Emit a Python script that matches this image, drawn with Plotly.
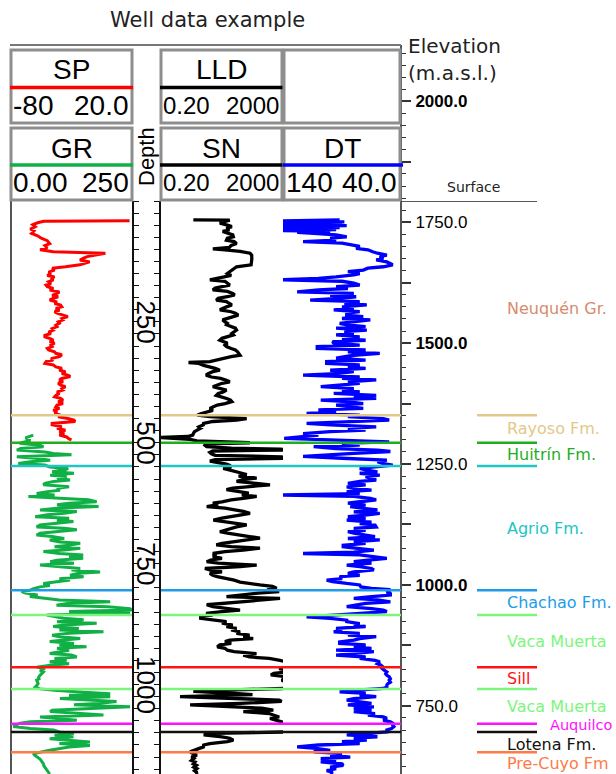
import math
import plotly.graph_objects as go

W, H = 616, 774
def fx(p): return p / W
def fy(p): return 1 - p / H

TITLE = "Well data example"
KB_ELEV = 1794.0   # elevation of depth 0 (m.a.s.l.)
TD = 1185.0        # deepest depth shown (m)

CURVE_NAMES = ["SP", "GR", "LLD", "SN", "DT"]
CURVE_MIN = [-80, 0, 0.2, 0.2, 140]
CURVE_MAX = [20, 250, 2000, 2000, 40]
CURVE_MIN_TXT = ["-80", "0.00", "0.20", "0.20", "140"]
CURVE_MAX_TXT = ["20.0", "250", "2000", "2000", "40.0"]
CURVE_COLORS = ["#ff0000", "#10b046", "#000000", "#000000", "#0000ff"]

DEPTH_LABELS = [250, 500, 750, 1000]
ELEV_TICKS = [750, 875, 1000, 1125, 1250, 1375, 1500, 1625, 1750, 1875, 2000]
ELEV_TICK_TEXT = ["750.0", "", "<b>1000.0</b>", "", "1250.0", "", "<b>1500.0</b>", "",
                  "1750.0", "", "<b>2000.0</b>"]

FORM_NAMES = ["Neuquén Gr.", "Rayoso Fm.", "Huitrín Fm.", "Agrio Fm.", "Chachao Fm.",
              "Vaca Muerta", "Sill", "Vaca Muerta", "Auquilco", "Lotena Fm.", "Pre-Cuyo Fm"]
FORM_TOPS = [0, 443, 500, 548, 805, 856, 964, 1009, 1081, 1098, 1140]
FORM_COLORS = ["#d68c6c", "#e3c888", "#1fae1f", "#22c4c4", "#1e9de6", "#7df57d",
               "#ff1414", "#7df57d", "#ff10ff", "#111111", "#ff7a45"]

SP_DEPTH = [41, 42, 45, 49, 53, 58, 62, 67, 72, 77,
            82, 88, 92, 97, 101, 105, 108, 112, 115, 118,
            122, 126, 129, 132, 136, 139, 143, 147, 150, 154,
            157, 160, 163, 167, 171, 174, 177, 181, 184, 188,
            191, 195, 198, 201, 205, 209, 212, 215, 219, 222,
            226, 229, 232, 236, 239, 243, 246, 250, 253, 257,
            260, 264, 267, 271, 274, 278, 281, 285, 288, 291,
            294, 298, 301, 305, 308, 312, 315, 318, 322, 326,
            329, 332, 336, 339, 343, 346, 350, 353, 357, 360,
            363, 367, 370, 374, 377, 381, 384, 388, 391, 395,
            398, 402, 405, 408, 412, 415, 419, 422, 426, 429,
            432, 436, 439, 443, 446, 450, 453, 456, 460, 463,
            467, 470, 474, 477, 481, 484, 488, 492, 494]
SP_VALUE = [18, -53, -58, -62, -60, -64, -61, -63, -58, -55,
            -50, -48, -52, -50, -56, -45, -2, -12, -17, -20,
            -23, -15, -20, -23, -35, -46, -44, -49, -47, -50,
            -44, -47, -45, -49, -47, -51, -50, -45, -48, -40,
            -42, -46, -41, -45, -48, -42, -44, -39, -38, -43,
            -40, -44, -42, -36, -33, -38, -37, -41, -40, -43,
            -42, -46, -45, -49, -47, -52, -52, -47, -45, -48,
            -44, -47, -46, -50, -49, -44, -43, -38, -40, -47,
            -45, -51, -52, -45, -43, -38, -40, -35, -38, -33,
            -31, -38, -40, -37, -41, -39, -35, -38, -37, -42,
            -40, -43, -44, -39, -37, -41, -37, -42, -43, -40,
            -45, -42, -44, -39, -41, -33, -28, -27, -46, -46,
            -38, -42, -35, -40, -36, -40, -34, -32, -30]

GR_DEPTH = [484, 490, 495, 501, 505, 508, 512, 515, 519, 522,
            525, 527, 529, 532, 536, 539, 543, 546, 550, 553,
            556, 560, 563, 567, 570, 573, 577, 580, 584, 587,
            591, 594, 598, 601, 605, 608, 611, 615, 618, 622,
            625, 628, 632, 635, 639, 642, 646, 649, 653, 656,
            660, 663, 667, 670, 674, 677, 680, 684, 687, 691,
            694, 698, 701, 705, 708, 712, 715, 718, 722, 725,
            729, 732, 736, 739, 743, 746, 749, 753, 756, 760,
            763, 767, 770, 774, 777, 781, 784, 788, 791, 795,
            798, 802, 805, 808, 811, 815, 818, 822, 825, 829,
            832, 836, 839, 843, 846, 849, 852, 856, 859, 863,
            866, 870, 873, 877, 880, 884, 887, 891, 894, 898,
            901, 905, 908, 911, 915, 918, 922, 925, 929, 932,
            936, 939, 943, 946, 950, 953, 957, 960, 964, 967,
            971, 974, 978, 981, 985, 988, 991, 995, 998, 1002,
            1005, 1009, 1012, 1016, 1019, 1022, 1025, 1029, 1032, 1035,
            1039, 1042, 1046, 1049, 1053, 1056, 1060, 1063, 1067, 1070,
            1074, 1077, 1080, 1084, 1087, 1091, 1094, 1098, 1101, 1105,
            1108, 1112, 1115, 1119, 1122, 1126, 1129, 1133, 1136, 1140,
            1143, 1147, 1150, 1154, 1157, 1161, 1164, 1168, 1171, 1175,
            1180, 1185]
GR_VALUE = [46, 30, 40, 18, 60, 67, 20, 12, 70, 88,
            125, 60, 12, 50, 81, 40, 15, 70, 80, 118,
            112, 85, 130, 81, 115, 95, 122, 88, 70, 67,
            120, 95, 101, 75, 53, 90, 36, 110, 160, 177,
            120, 95, 181, 100, 60, 136, 110, 75, 50, 120,
            95, 129, 80, 60, 53, 110, 136, 100, 60, 53,
            85, 110, 80, 101, 143, 120, 90, 143, 110, 67,
            100, 149, 120, 149, 95, 81, 130, 60, 100, 143,
            125, 184, 140, 122, 150, 100, 122, 85, 67, 80,
            60, 45, 39, 22, 30, 55, 39, 74, 100, 205,
            120, 94, 200, 246, 250, 120, 246, 74, 90, 108,
            150, 95, 177, 110, 87, 140, 100, 191, 120, 85,
            100, 143, 110, 80, 130, 100, 156, 95, 120, 100,
            80, 125, 136, 90, 115, 80, 120, 81, 53, 70,
            60, 67, 62, 60, 57, 58, 53, 55, 56, 53,
            50, 60, 90, 150, 205, 120, 205, 101, 150, 218,
            180, 130, 246, 160, 85, 81, 150, 191, 60, 90,
            136, 40, 19, 10, 5, 40, 88, 100, 130, 90,
            129, 80, 110, 163, 100, 163, 120, 101, 80, 60,
            46, 50, 55, 60, 62, 65, 67, 68, 70, 72,
            75, 80]

SN_DEPTH = [39, 39.5, 43, 46, 50, 53, 57, 60, 63, 67,
            70, 74, 77, 81, 84, 88, 92, 96, 99, 101,
            104, 108, 112, 120, 128, 132, 136, 140, 146, 150,
            154, 158, 163, 166, 170, 174, 177, 180, 184, 187,
            191, 194, 198, 201, 205, 208, 212, 215, 219, 222,
            225, 229, 232, 236, 239, 243, 246, 250, 253, 256,
            260, 263, 267, 270, 274, 277, 281, 284, 288, 291,
            294, 298, 301, 305, 308, 312, 315, 319, 322, 326,
            329, 332, 334, 336, 340, 343, 346, 350, 353, 357,
            360, 364, 367, 371, 374, 377, 381, 384, 388, 391,
            395, 398, 402, 405, 409, 412, 415, 419, 422, 426,
            429, 433, 436, 440, 443, 446, 450, 453, 456, 460,
            463, 467, 470, 474, 477, 481, 484, 487, 489, 493,
            496, 500, 502, 505, 508, 511, 513, 515, 517, 520,
            523, 526, 529, 532, 535, 538, 541, 544, 547, 550,
            553, 556, 559, 563, 566, 569, 573, 576, 580, 584,
            587, 590, 594, 597, 601, 604, 608, 611, 615, 618,
            622, 625, 628, 632, 635, 639, 642, 646, 649, 653,
            656, 660, 663, 667, 670, 674, 677, 680, 684, 687,
            691, 694, 697, 701, 704, 708, 711, 715, 718, 722,
            725, 729, 732, 735, 739, 742, 746, 749, 753, 756,
            760, 763, 767, 770, 774, 777, 781, 784, 788, 791,
            794, 797, 801, 804, 808, 811, 815, 818, 822, 825,
            829, 832, 835, 839, 842, 846, 849, 853, 856, 860,
            863, 867, 870, 873, 877, 880, 884, 887, 891, 894,
            898, 901, 905, 908, 911, 915, 918, 922, 925, 929,
            932, 936, 939, 943, 946, 950, 953, 956, 960, 963,
            967, 970, 974, 977, 980, 984, 987, 991, 994, 998,
            1001, 1004, 1008, 1011, 1014, 1018, 1021, 1025, 1028, 1032,
            1035, 1039, 1042, 1046, 1049, 1053, 1056, 1060, 1063, 1067,
            1070, 1074, 1077, 1080, 1084, 1087, 1091, 1094, 1098, 1101,
            1104, 1108, 1111, 1115, 1118, 1122, 1125, 1129, 1132, 1136,
            1139, 1143, 1146, 1150, 1153, 1157, 1160, 1164, 1167, 1171,
            1174, 1178, 1181, 1185]
SN_VALUE = [2.3, 36, 22, 17, 30, 42, 28, 35, 21, 33,
            45, 47, 30, 28, 50, 60, 40, 35, 10, 25,
            78, 166, 188, 190, 185, 180, 60, 50, 36, 30,
            40, 20, 8, 25, 30, 36, 20, 12, 10, 30,
            45, 52, 30, 15, 13, 28, 35, 42, 28, 20,
            17, 40, 55, 68, 45, 30, 21, 25, 30, 28,
            45, 55, 60, 50, 42, 47, 30, 20, 17, 22,
            30, 25, 28, 40, 55, 65, 70, 78, 40, 20,
            13, 8, 1.6, 3.5, 5, 9, 12, 17, 10, 7,
            6, 9, 18, 28, 36, 20, 12, 10, 18, 28,
            22, 15, 13, 20, 30, 38, 42, 25, 14, 10,
            8, 10, 6, 4, 3.1, 8, 129, 60, 10, 5,
            4.9, 3.5, 4, 3, 2.5, 2.3, 2.2, 1.5, 0.15, 1.8,
            3, 166, 6, 5.5, 6.3, 40, 1600, 2500, 10, 8,
            9, 12, 1800, 2500, 12, 8, 15, 28, 36, 40,
            22, 36, 60, 90, 129, 70, 274, 100, 60, 300,
            750, 200, 45, 28, 70, 150, 90, 274, 100, 40,
            20, 10, 15, 6.3, 25, 60, 100, 166, 80, 30,
            20, 10.4, 25, 80, 129, 60, 40, 25, 17, 30,
            100, 160, 352, 150, 60, 20, 13, 40, 352, 100,
            25, 10, 13, 10, 20, 9, 6.3, 15, 274, 80,
            5.5, 8, 20, 8, 10, 14, 30, 50, 78, 150,
            350, 900, 1240, 600, 1500, 300, 60, 28, 1600, 500,
            100, 25, 6.3, 10, 30, 78, 20, 6, 10, 4,
            4, 12, 28, 20, 45, 28, 60, 40, 78, 60,
            160, 100, 210, 36, 25, 40, 17, 14, 25, 30,
            50, 270, 100, 160, 700, 1600, 2500, 2500, 2500, 2500,
            1500, 2500, 2500, 1000, 800, 2500, 2500, 1800, 2500, 2500,
            2500, 2500, 2500, 50, 2.3, 40, 200, 0.84, 50, 1500,
            1800, 80, 1.8, 30, 400, 965, 100, 700, 1000, 1500,
            750, 1200, 1800, 2500, 2500, 2500, 2500, 2500, 2500, 10,
            5, 20, 36, 47, 30, 8, 5, 4.9, 3.8, 2.5,
            1.8, 2.3, 3, 2, 2.4, 2.0, 2.6, 2.3, 2.9, 2.4,
            3.0, 2.5, 2.9, 3.0]

DT_DEPTH = [39, 41, 43, 45, 47, 49, 51, 53, 55, 57,
            59, 61, 63, 65, 67, 70, 74, 77, 81, 84,
            87, 91, 94, 98, 101, 105, 108, 112, 115, 119,
            122, 126, 129, 132, 136, 139, 143, 146, 150, 153,
            157, 160, 163, 166, 170, 174, 177, 181, 184, 188,
            191, 195, 198, 201, 205, 208, 212, 215, 219, 222,
            225, 229, 232, 236, 239, 243, 246, 250, 253, 256,
            260, 263, 267, 270, 274, 277, 281, 284, 288, 291,
            294, 298, 301, 305, 308, 312, 315, 319, 322, 325,
            329, 332, 336, 339, 343, 346, 350, 353, 357, 360,
            364, 367, 370, 374, 377, 381, 384, 388, 391, 395,
            398, 402, 405, 408, 412, 415, 419, 422, 426, 429,
            432, 436, 439, 443, 446, 450, 453, 457, 460, 463,
            467, 470, 474, 477, 481, 484, 488, 491, 494, 498,
            501, 505, 508, 512, 515, 518, 522, 525, 528, 532,
            536, 539, 543, 546, 550, 553, 556, 560, 563, 567,
            570, 573, 577, 580, 584, 587, 591, 594, 598, 601,
            605, 608, 611, 615, 618, 622, 625, 629, 632, 636,
            639, 643, 646, 650, 653, 657, 660, 664, 667, 670,
            674, 677, 681, 684, 687, 691, 694, 698, 701, 705,
            708, 712, 715, 719, 722, 726, 729, 732, 736, 739,
            743, 746, 749, 753, 756, 760, 763, 767, 770, 774,
            777, 781, 784, 787, 791, 794, 798, 801, 804, 806,
            809, 812, 815, 818, 822, 825, 829, 832, 836, 839,
            843, 846, 849, 853, 856, 860, 863, 867, 870, 874,
            877, 880, 884, 887, 891, 894, 898, 901, 905, 908,
            912, 915, 918, 922, 925, 929, 932, 936, 939, 943,
            946, 950, 953, 957, 960, 964, 967, 971, 974, 978,
            981, 984, 988, 991, 995, 998, 1001, 1005, 1008, 1012,
            1015, 1018, 1022, 1025, 1029, 1032, 1036, 1039, 1042, 1046,
            1049, 1053, 1056, 1060, 1063, 1067, 1070, 1074, 1077, 1080,
            1084, 1087, 1091, 1094, 1098, 1101, 1104, 1108, 1111, 1115,
            1118, 1122, 1125, 1129, 1132, 1136, 1139, 1143, 1146, 1150,
            1153, 1157, 1160, 1164, 1167, 1171, 1174, 1178, 1181, 1185]
DT_VALUE = [92, 141, 88, 141, 90, 141, 86, 141, 92, 141,
            95, 141, 100, 128, 114, 95, 86, 100, 95, 123,
            90, 80, 75, 78, 68, 64, 60, 52, 58, 55,
            61, 52, 50, 47, 55, 68, 72, 85, 75, 80,
            95, 110, 141, 90, 80, 75, 95, 85, 110, 128,
            80, 100, 78, 90, 117, 75, 88, 69, 90, 80,
            97, 75, 86, 86, 72, 90, 66, 80, 92, 86,
            70, 95, 69, 88, 80, 95, 75, 90, 70, 98,
            97, 75, 111, 111, 70, 85, 58, 80, 90, 95,
            70, 103, 103, 75, 85, 70, 100, 80, 95, 123,
            75, 90, 61, 85, 75, 95, 108, 80, 90, 75,
            97, 61, 80, 61, 108, 85, 72, 95, 80, 72,
            110, 95, 120, 75, 85, 55, 50, 90, 120, 100,
            61, 85, 70, 100, 123, 110, 130, 139, 100, 50,
            90, 75, 114, 95, 60, 49, 80, 110, 123, 90,
            52, 60, 55, 47, 60, 75, 70, 60, 75, 58,
            70, 66, 61, 75, 85, 70, 86, 80, 65, 86,
            75, 141, 80, 66, 61, 75, 85, 70, 83, 70,
            60, 80, 58, 72, 85, 70, 86, 65, 75, 62,
            61, 80, 70, 85, 80, 70, 62, 85, 58, 80,
            70, 89, 89, 75, 63, 80, 123, 75, 60, 52,
            70, 80, 65, 86, 75, 65, 63, 80, 85, 75,
            92, 90, 103, 98, 86, 75, 74, 65, 49, 50,
            52, 49, 49, 65, 80, 60, 49, 70, 80, 86,
            65, 55, 52, 75, 100, 120, 100, 86, 86, 75,
            80, 70, 95, 90, 97, 75, 85, 61, 75, 80,
            92, 92, 70, 80, 65, 95, 63, 80, 95, 70,
            75, 62, 58, 60, 57, 55, 56, 54, 52, 53,
            52, 50, 49, 50, 49, 51, 52, 52, 55, 80,
            92, 70, 75, 61, 80, 86, 75, 65, 85, 63,
            80, 65, 80, 62, 68, 55, 52, 55, 49, 47,
            47, 46, 48, 52, 52, 75, 86, 60, 80, 69,
            90, 75, 110, 128, 112, 100, 114, 90, 100, 83,
            108, 95, 108, 90, 89, 100, 95, 103, 98, 100]

for a, b in [(SP_DEPTH, SP_VALUE), (GR_DEPTH, GR_VALUE), (SN_DEPTH, SN_VALUE), (DT_DEPTH, DT_VALUE)]:
    assert len(a) == len(b), (len(a), len(b))

# ---------------- geometry (pixels) ----------------
LOG_TOP = 201      # pixel row of depth 0
ELEV_AXIS_TOP = 45
PX_PER_M = (H - LOG_TOP) / TD
ELEV_BOTTOM = KB_ELEV - TD
ELEV_TOP = KB_ELEV + (LOG_TOP - ELEV_AXIS_TOP) / PX_PER_M

T1 = (11, 132)     # SP / GR track
T2 = (161, 283)    # LLD / SN part
T3 = (283, 401)    # DT part

LOG_DOMAIN_Y = [0, fy(LOG_TOP)]

fig = go.Figure()
CURVES = [(SP_DEPTH, SP_VALUE, "x", 0, 3.0), (GR_DEPTH, GR_VALUE, "x2", 1, 3.0),
          (SN_DEPTH, SN_VALUE, "x3", 3, 3.3), (DT_DEPTH, DT_VALUE, "x4", 4, 3.3)]
for d, v, xa, ci, lw in CURVES:
    fig.add_trace(go.Scatter(x=v, y=d, xaxis=xa, yaxis="y", mode="lines",
                             line=dict(color=CURVE_COLORS[ci], width=lw),
                             name=CURVE_NAMES[ci], hoverinfo="skip"))
# helper traces so that the auxiliary axes get drawn
for xa, ya in [("x3", "y3"), ("x4", "y2"), ("x4", "y4")]:
    fig.add_trace(go.Scatter(x=[None], y=[None], xaxis=xa, yaxis=ya, mode="lines",
                             showlegend=False, hoverinfo="skip"))

hidden = dict(visible=False, showgrid=False, zeroline=False, fixedrange=True)
depth_ticks = dict(range=[TD, 0], domain=LOG_DOMAIN_Y, tickmode="linear", tick0=0, dtick=25,
                   ticks="outside", ticklen=5, tickwidth=1.3, tickcolor="#111",
                   showticklabels=False, showgrid=False, zeroline=False,
                   showline=True, linecolor="#111", linewidth=1.5)

fig.update_layout(
    width=W, height=H, margin=dict(l=0, r=0, t=0, b=0),
    paper_bgcolor="white", plot_bgcolor="rgba(0,0,0,0)", showlegend=False,
    xaxis=dict(domain=[fx(T1[0]), fx(T1[1])], range=[CURVE_MIN[0], CURVE_MAX[0]], anchor="y", **hidden),
    xaxis2=dict(domain=[fx(T1[0]), fx(T1[1])], range=[CURVE_MIN[1], CURVE_MAX[1]], anchor="y",
                overlaying="x", **hidden),
    xaxis3=dict(domain=[fx(T2[0]), fx(T2[1])], type="log",
                range=[math.log10(CURVE_MIN[3]), math.log10(CURVE_MAX[3])], anchor="y", **hidden),
    xaxis4=dict(domain=[fx(T3[0]), fx(T3[1])], range=[CURVE_MIN[4], CURVE_MAX[4]], anchor="y", **hidden),
    yaxis=dict(anchor="x", side="right", **depth_ticks),
    yaxis3=dict(anchor="x3", side="left", overlaying="y", **depth_ticks),
    yaxis2=dict(domain=[0, fy(ELEV_AXIS_TOP)], range=[ELEV_BOTTOM, ELEV_TOP], anchor="free",
                position=fx(T3[1]), side="right", tickmode="array", tickvals=ELEV_TICKS,
                ticktext=ELEV_TICK_TEXT, ticks="outside", ticklen=9, tickwidth=1.5, tickcolor="#333",
                showline=True, linecolor="#555", linewidth=2, showgrid=False, zeroline=False,
                tickfont=dict(family="Liberation Sans", size=17, color="#000"), ticklabelstandoff=1),
    yaxis4=dict(domain=[0, fy(ELEV_AXIS_TOP)], range=[ELEV_BOTTOM, ELEV_TOP], anchor="free",
                overlaying="y2", position=fx(T3[1]), side="right", tickmode="linear", tick0=0,
                dtick=25, ticks="outside", ticklen=4, tickwidth=1.2, tickcolor="#333",
                showticklabels=False, showline=False, showgrid=False, zeroline=False),
)

shapes = []
annos = []

# track 1 left border
shapes.append(dict(type="line", xref="x domain", yref="y domain", x0=0, x1=0, y0=0, y1=1,
                   line=dict(color="#555", width=2)))

# formation tops across the tracks and the marker segments on the right
for i in range(1, len(FORM_TOPS)):
    c = FORM_COLORS[i]
    for xr in ["x domain", "x3 domain", "x4 domain"]:
        shapes.append(dict(type="line", xref=xr, yref="y", x0=0, x1=1,
                           y0=FORM_TOPS[i], y1=FORM_TOPS[i], line=dict(color=c, width=2.5)))
    shapes.append(dict(type="line", xref="paper", yref="y", x0=fx(477), x1=fx(537),
                       y0=FORM_TOPS[i], y1=FORM_TOPS[i], line=dict(color=c, width=2.5)))

# surface line (depth 0)
shapes.append(dict(type="line", xref="paper", yref="y", x0=fx(401), x1=fx(537),
                   y0=FORM_TOPS[0], y1=FORM_TOPS[0], line=dict(color="#222", width=1.5)))

# formation names, centred in each interval
bounds = FORM_TOPS + [TD]
label_x = [506] * len(FORM_NAMES)
label_size = [16] * len(FORM_NAMES)
label_shift = [0] * len(FORM_NAMES)
label_x[8] = 549
label_size[8] = 14.5
label_shift[8] = 3
label_shift[9] = -2
for i, name in enumerate(FORM_NAMES):
    annos.append(dict(text=name, xref="paper", yref="y", x=fx(label_x[i]),
                      y=(bounds[i] + bounds[i + 1]) / 2, xanchor="left", yanchor="middle",
                      yshift=label_shift[i], showarrow=False, borderpad=0,
                      font=dict(family="DejaVu Sans", size=label_size[i], color=FORM_COLORS[i])))

# depth labels inside the depth track
for dv in DEPTH_LABELS:
    annos.append(dict(text=str(dv), xref="paper", yref="y", x=fx(146.5), y=dv, textangle=90,
                      xanchor="center", yanchor="middle", showarrow=False,
                      font=dict(family="Liberation Sans", size=26, color="#000")))

# ---------------- header ----------------
GRAY = "#8e8e8e"
shapes.append(dict(type="line", xref="paper", yref="paper", x0=fx(10), x1=fx(401),
                   y0=fy(45), y1=fy(45), line=dict(color="#777", width=2)))
HEADER_CELLS = [(0, 10, 133, 49, 124), (1, 10, 133, 127, 201), (2, 160, 283, 49, 124),
                (None, 283, 401, 49, 124), (3, 160, 283, 127, 201), (4, 283, 401, 127, 201)]
SCALE_FONT = {0: 28, 1: 28, 2: 24, 3: 24, 4: 28}
for ci, x0, x1, y0, y1 in HEADER_CELLS:
    shapes.append(dict(type="rect", xref="paper", yref="paper", x0=fx(x0 + 1), x1=fx(x1 - 1),
                       y0=fy(y0 + 1), y1=fy(y1 - 1), line=dict(color=GRAY, width=3)))
    if ci is None:
        continue
    ym = (y0 + y1) / 2 + 1
    shapes.append(dict(type="line", xref="paper", yref="paper", x0=fx(x0), x1=fx(x1 + (2 if ci == 4 else 0)),
                       y0=fy(ym), y1=fy(ym), line=dict(color=CURVE_COLORS[ci], width=3.5)))
    annos.append(dict(text=CURVE_NAMES[ci], xref="paper", yref="paper", x=fx((x0 + x1) / 2),
                      y=fy(y0 + 21), xanchor="center", yanchor="middle", showarrow=False,
                      font=dict(family="Liberation Sans", size=28, color="#000")))
    for txt, xx, anc in [(CURVE_MIN_TXT[ci], x0 + 2, "left"), (CURVE_MAX_TXT[ci], x1 - 3, "right")]:
        annos.append(dict(text=txt, xref="paper", yref="paper", x=fx(xx), y=fy(y1 - 19),
                          xanchor=anc, yanchor="middle", showarrow=False, borderpad=0,
                          font=dict(family="Liberation Sans", size=SCALE_FONT[ci], color="#000")))

annos.append(dict(text="Depth", xref="paper", yref="paper", x=fx(146), y=fy(157), textangle=-90,
                  xanchor="center", yanchor="middle", showarrow=False,
                  font=dict(family="Liberation Sans", size=22, color="#000")))
annos.append(dict(text=TITLE, xref="paper", yref="paper", x=fx(207), y=fy(20), xanchor="center",
                  yanchor="middle", showarrow=False, font=dict(family="DejaVu Sans", size=21, color="#222")))
annos.append(dict(text="Elevation", xref="paper", yref="paper", x=fx(406), y=fy(46), xanchor="left",
                  yanchor="middle", showarrow=False, font=dict(family="DejaVu Sans", size=20, color="#222")))
annos.append(dict(text="(m.a.s.l.)", xref="paper", yref="paper", x=fx(406), y=fy(73), xanchor="left",
                  yanchor="middle", showarrow=False, font=dict(family="DejaVu Sans", size=20, color="#222")))
annos.append(dict(text="Surface", xref="paper", yref="paper", x=fx(473), y=fy(187), xanchor="center",
                  yanchor="middle", showarrow=False, font=dict(family="DejaVu Sans", size=14, color="#222")))

fig.update_layout(shapes=shapes, annotations=annos)
fig.write_html("out.html")
